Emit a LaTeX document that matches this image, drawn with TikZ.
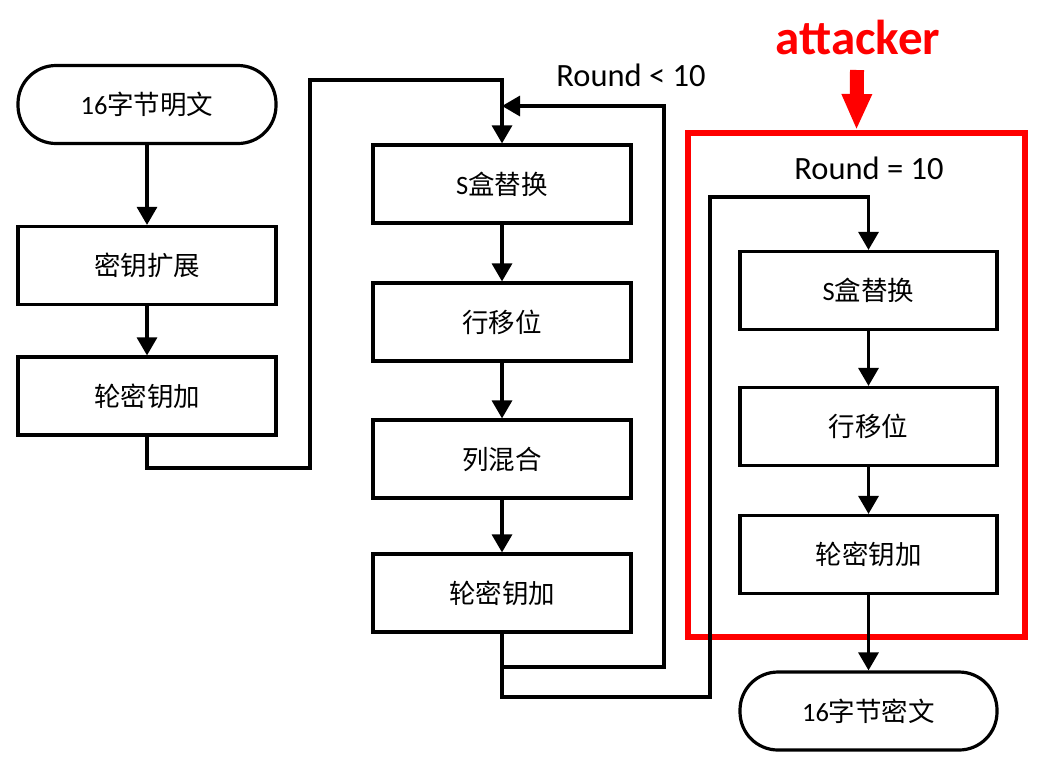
\documentclass[tikz,border=0pt]{standalone}
\usepackage{fontspec}
\setmainfont{Carlito}
\newfontfamily\cjk{Noto Sans CJK SC}
\usetikzlibrary{arrows.meta}
\newcommand\zh[1]{{\cjk #1}}
\begin{document}
\begin{tikzpicture}[x=1pt,y=-1pt,
  box/.style={draw, line width=3.2pt, minimum width=258pt, minimum height=78pt, inner sep=0pt, font=\fontsize{26.5}{30}\selectfont},
  term/.style={box, rounded corners=38pt},
  arr/.style={line width=3.2pt, -{Triangle[length=18pt,width=20pt]}},
  lbl/.style={font=\fontsize{32.5}{36}\selectfont}]
\useasboundingbox (0,0) rectangle (1040,772);
% left column
\node[term] (pt) at (147,104.5) {16\zh{字节明文}};
\node[box] (key) at (147,265.5) {\zh{密钥扩展}};
\node[box] (ark1) at (147,396) {\zh{轮密钥加}};
% middle column
\node[box] (sb1) at (502,184) {S\zh{盒替换}};
\node[box] (sr1) at (502,322) {\zh{行移位}};
\node[box] (mc) at (502,459) {\zh{列混合}};
\node[box] (ark2) at (502,593) {\zh{轮密钥加}};
% right column
\node[box, minimum width=257pt] (sb2) at (868.5,290.5) {S\zh{盒替换}};
\node[box, minimum width=257pt] (sr2) at (868.5,426.5) {\zh{行移位}};
\node[box, minimum width=257pt] (ark3) at (868.5,554.5) {\zh{轮密钥加}};
\node[term, minimum width=257pt] (ct) at (868.5,711) {16\zh{字节密文}};
% labels
\node[lbl] (r1) at (631,75) {Round < 10};
\node[lbl] (r2) at (869,168) {Round = 10};
% red box
\node[draw=red, line width=6pt, minimum width=337pt, minimum height=504pt, inner sep=0pt] (atk) at (856.5,385) {};
\node[text=red, font=\fontsize{49}{52}\selectfont\bfseries] (att) at (858,37) {attacker};
\draw[red, line width=14pt, -{Triangle[length=36pt,width=28pt]}] (857,70) -- (atk.north);
% connectors
\coordinate (j) at (502,106);
\draw[arr] (pt) -- (key);
\draw[arr] (key) -- (ark1);
\draw[arr] (ark1.south) |- (310,468) |- (502,80) -- (sb1.north);
\draw[arr] (sb1) -- (sr1);
\draw[arr] (sr1) -- (mc);
\draw[arr] (mc) -- (ark2);
\draw[arr] (ark2.south) |- (664,667) |- (j);
\draw[arr] (ark2.south) |- (710,697) |- (868.5,197) -- (sb2.north);
\draw[arr] (sb2) -- (sr2);
\draw[arr] (sr2) -- (ark3);
\draw[arr] (ark3) -- (ct);
\end{tikzpicture}
\end{document}
